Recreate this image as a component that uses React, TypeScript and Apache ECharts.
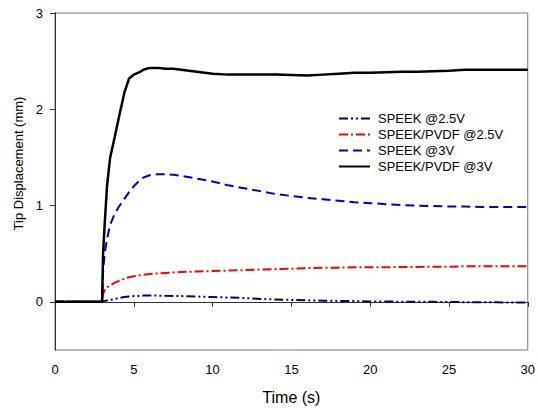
import React, { useEffect, useRef } from "react";
import * as echarts from "echarts";

const timeS = [0, 2.99, 3.05, 3.15, 3.3, 3.5, 3.8, 4.1, 4.4, 4.7, 5.0, 5.3, 5.6, 6, 6.5, 7, 7.5, 8, 9, 10, 11, 12, 13, 14, 15, 16, 17, 18, 19, 20, 21, 22, 23, 24, 25, 26, 27, 28, 29, 30];

const speek25 = [0, 0, 0.005, 0.01, 0.015, 0.02, 0.03, 0.04, 0.05, 0.055, 0.06, 0.062, 0.065, 0.065, 0.065, 0.063, 0.062, 0.06, 0.055, 0.05, 0.045, 0.04, 0.03, 0.025, 0.02, 0.015, 0.012, 0.01, 0.008, 0.005, 0.003, 0.002, 0, 0, -0.002, -0.003, -0.004, -0.005, -0.006, -0.007];

const pvdf25 = [0, 0, 0.08, 0.12, 0.15, 0.17, 0.2, 0.22, 0.24, 0.255, 0.265, 0.275, 0.28, 0.29, 0.295, 0.3, 0.305, 0.31, 0.315, 0.32, 0.325, 0.33, 0.335, 0.34, 0.345, 0.35, 0.355, 0.355, 0.36, 0.36, 0.36, 0.362, 0.363, 0.364, 0.365, 0.37, 0.37, 0.37, 0.37, 0.37];

const speek3 = [0, 0, 0.3, 0.5, 0.65, 0.8, 0.92, 1.0, 1.07, 1.14, 1.2, 1.25, 1.29, 1.315, 1.325, 1.325, 1.32, 1.31, 1.28, 1.25, 1.21, 1.18, 1.15, 1.12, 1.1, 1.08, 1.065, 1.05, 1.035, 1.025, 1.015, 1.005, 1.0, 0.995, 0.99, 0.99, 0.985, 0.985, 0.985, 0.985];

const pvdf3 = [0, 0, 0.5, 0.8, 1.2, 1.5, 1.72, 1.95, 2.17, 2.32, 2.36, 2.38, 2.41, 2.43, 2.43, 2.42, 2.42, 2.41, 2.39, 2.37, 2.36, 2.36, 2.36, 2.36, 2.355, 2.35, 2.36, 2.37, 2.38, 2.38, 2.385, 2.39, 2.39, 2.395, 2.4, 2.41, 2.41, 2.41, 2.41, 2.41];

const seriesNames = ["SPEEK @2.5V", "SPEEK/PVDF @2.5V", "SPEEK @3V", "SPEEK/PVDF @3V"];
const yTicks = [0, 1, 2, 3];

const FONT = "Liberation Sans, Arial, sans-serif";

export default function App() {
  const ref = useRef<HTMLDivElement>(null);
  useEffect(() => {
    document.body.style.margin = "0";
    document.body.style.overflow = "hidden";
    if (!ref.current) return;
    const chart = echarts.init(ref.current, null, { renderer: "svg" });
    const mk = (vals: number[]) => timeS.map((t, i) => [t, vals[i]]);
    const styles = [
      { color: "#000080", type: [9, 3, 2, 3, 2, 3], width: 2 },
      { color: "#ff0000", type: [9, 3, 2, 3], width: 2 },
      { color: "#0000cc", type: [9, 5], width: 2 },
      { color: "#000000", type: "solid", width: 2.5 },
    ];
    const datas = [speek25, pvdf25, speek3, pvdf3];
    chart.setOption({
      animation: false,
      textStyle: { fontFamily: FONT },
      grid: { left: 55, right: 8, top: 13, bottom: 57, show: true, borderColor: "#777", borderWidth: 1 },
      legend: {
        orient: "vertical",
        left: 333,
        top: 107,
        itemWidth: 31,
        itemHeight: 13,
        itemGap: 3,
        data: seriesNames,
        itemStyle: { opacity: 0 },
        textStyle: { fontFamily: FONT, fontSize: 13, color: "#000", padding: [0, 0, 0, 3] },
      },
      xAxis: {
        type: "value",
        min: 0,
        max: 30,
        interval: 5,
        name: "Time (s)",
        nameLocation: "middle",
        nameGap: 39,
        nameTextStyle: { fontFamily: FONT, fontSize: 16, color: "#000" },
        axisLine: { lineStyle: { color: "#333", width: 1 } },
        axisTick: { show: true, inside: false, length: 5, lineStyle: { color: "#333" } },
        axisLabel: { fontFamily: FONT, fontSize: 13, color: "#000", margin: 13 },
        splitLine: { show: false },
      },
      yAxis: {
        type: "value",
        min: -0.5,
        max: 3,
        name: "Tip Displacement (mm)",
        nameLocation: "middle",
        nameGap: 28,
        nameRotate: 90,
        nameTextStyle: { fontFamily: FONT, fontSize: 13, color: "#000", padding: [0, 0, 0, 36] },
        axisLine: { show: true, lineStyle: { color: "#333", width: 1 } },
        axisTick: { show: true, inside: false, length: 5, customValues: yTicks, lineStyle: { color: "#333" } },
        axisLabel: { fontFamily: FONT, fontSize: 13, color: "#000", margin: 12, customValues: yTicks },
        splitLine: { show: false },
      },
      series: seriesNames.map((name, i) => ({
        name,
        type: "line",
        data: mk(datas[i]),
        showSymbol: false,
        symbol: "none",
        smooth: false,
        color: styles[i].color,
        lineStyle: { color: styles[i].color, type: styles[i].type, width: styles[i].width },
        z: i + 2,
      })),
    });
    return () => chart.dispose();
  }, []);
  return <div ref={ref} style={{ width: 538, height: 410 }} />;
}
